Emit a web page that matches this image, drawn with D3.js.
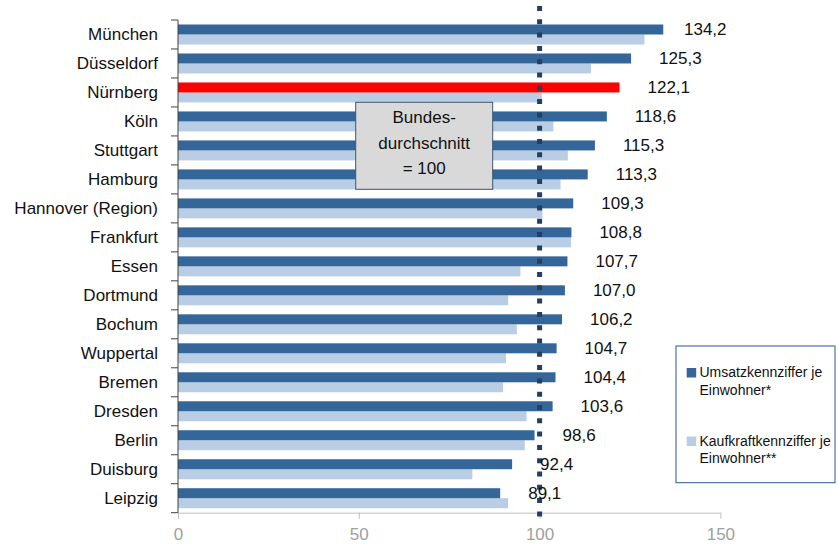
<!DOCTYPE html>
<html><head><meta charset="utf-8">
<script src="https://cdn.jsdelivr.net/npm/d3@7"></script>
<style>
html,body{margin:0;padding:0;background:#fff;}
svg{display:block;font-family:"Liberation Sans",Arial,sans-serif;}
</style></head>
<body>
<svg id="chart" width="838" height="550"></svg>
<script>
const cities = ["München","Düsseldorf","Nürnberg","Köln","Stuttgart","Hamburg","Hannover (Region)","Frankfurt","Essen","Dortmund","Bochum","Wuppertal","Bremen","Dresden","Berlin","Duisburg","Leipzig"];
const umsatz = [134.2,125.3,122.1,118.6,115.3,113.3,109.3,108.8,107.7,107.0,106.2,104.7,104.4,103.6,98.6,92.4,89.1];
const kaufkraft = [129.0,114.2,100.6,103.8,107.8,105.8,100.8,108.7,94.7,91.3,93.7,90.7,89.9,96.4,95.9,81.4,91.3];
const xTicks = [0,50,100,150];
const highlight = "Nürnberg";
const seriesNames = ["Umsatzkennziffer je|Einwohner*","Kaufkraftkennziffer je|Einwohner**"];
const referenceValue = 100;
const boxLines = ["Bundes-","durchschnitt","= 100"];

const colDark = "#346699", colLight = "#B9CDE5", colRed = "#FF0000";
const svg = d3.select("#chart");
const x = d3.scaleLinear().domain([0,150]).range([178,720.4]);
const y = d3.scaleBand().domain(cities).range([20,512.7]).padding(0);
const step = y.step();
const inner = d3.scaleBand().domain(["u","k"]).range([4.5, step-4.5]);
const fmt = v => v.toFixed(1).replace(".", ",");

// bars
const g = svg.append("g");
cities.forEach((c,i) => {
  g.append("rect").attr("x", x(0)).attr("y", y(c)+inner("k"))
    .attr("width", x(kaufkraft[i])-x(0)).attr("height", inner.bandwidth())
    .attr("fill", colLight);
  g.append("rect").attr("x", x(0)).attr("y", y(c)+inner("u"))
    .attr("width", x(umsatz[i])-x(0)).attr("height", inner.bandwidth())
    .attr("fill", c===highlight ? colRed : colDark);
});

// x axis
const xa = svg.append("g").attr("transform","translate(0,512.7)")
  .call(d3.axisBottom(x).tickValues(xTicks).tickSize(6).tickSizeOuter(0));
xa.select(".domain").attr("stroke","#bfbfbf");
xa.selectAll(".tick line").attr("stroke","#bfbfbf");
xa.selectAll(".tick text").attr("fill","#a0a0a0").attr("font-size",17)
  .attr("font-family","Liberation Sans, Arial, sans-serif").attr("dy","1.05em");

// y axis
svg.append("line").attr("x1",x(0)).attr("x2",x(0)).attr("y1",y.range()[0]).attr("y2",y.range()[1])
  .attr("stroke","#404040").attr("stroke-width",1);
const bounds = cities.map(c=>y(c)).concat([y.range()[1]]);
svg.selectAll(".ytick").data(bounds).join("line")
  .attr("x1",x(0)-7).attr("x2",x(0)).attr("y1",d=>d).attr("y2",d=>d)
  .attr("stroke","#404040");
svg.selectAll(".ylab").data(cities).join("text")
  .attr("x",158).attr("y",d=>y(d)+step/2).attr("dy","0.35em")
  .attr("text-anchor","end").attr("font-size",17).attr("fill","#111")
  .text(d=>d);

// Box
const bx = 355.7, by = 102.3, bw = 137, bh = 87;
svg.append("rect").attr("x",bx).attr("y",by).attr("width",bw).attr("height",bh)
  .attr("fill","#d9d9d9").attr("stroke","#3f5675").attr("stroke-width",1);
svg.selectAll(".boxt").data(boxLines).join("text")
  .attr("x",bx+bw/2).attr("y",(d,i)=>by+14.5+i*25.8).attr("dy","0.35em")
  .attr("text-anchor","middle").attr("font-size",17).attr("fill","#111").text(d=>d);

// reference dotted line
svg.append("line").attr("x1",x(referenceValue)).attr("x2",x(referenceValue))
  .attr("y1",6).attr("y2",523).attr("stroke","#243F60").attr("stroke-width",5)
  .attr("stroke-dasharray","5,8.3");

// value labels
svg.selectAll(".vlab").data(cities).join("text")
  .attr("x",(d,i)=>Math.min(x(umsatz[i])+28, 684))
  .attr("y",d=>y(d)+inner("u")+inner.bandwidth()/2).attr("dy","0.35em")
  .attr("font-size",17).attr("fill","#111")
  .text((d,i)=>fmt(umsatz[i]));

// legend
const lg = svg.append("g");
lg.append("rect").attr("x",676).attr("y",346).attr("width",159).attr("height",136.7)
  .attr("fill","#fff").attr("stroke","#2F5597").attr("stroke-width",1);
[colDark,colLight].forEach((col,i)=>{
  const y0 = 368 + i*68.5;
  lg.append("rect").attr("x",686.7).attr("y",y0).attr("width",9.5).attr("height",9.5).attr("fill",col);
  const parts = seriesNames[i].split("|");
  parts.forEach((p,j)=>{
    lg.append("text").attr("x",699.5).attr("y",y0+9+j*17.5)
      .attr("font-size",14).attr("fill","#111").text(p);
  });
});
</script>
</body></html>
